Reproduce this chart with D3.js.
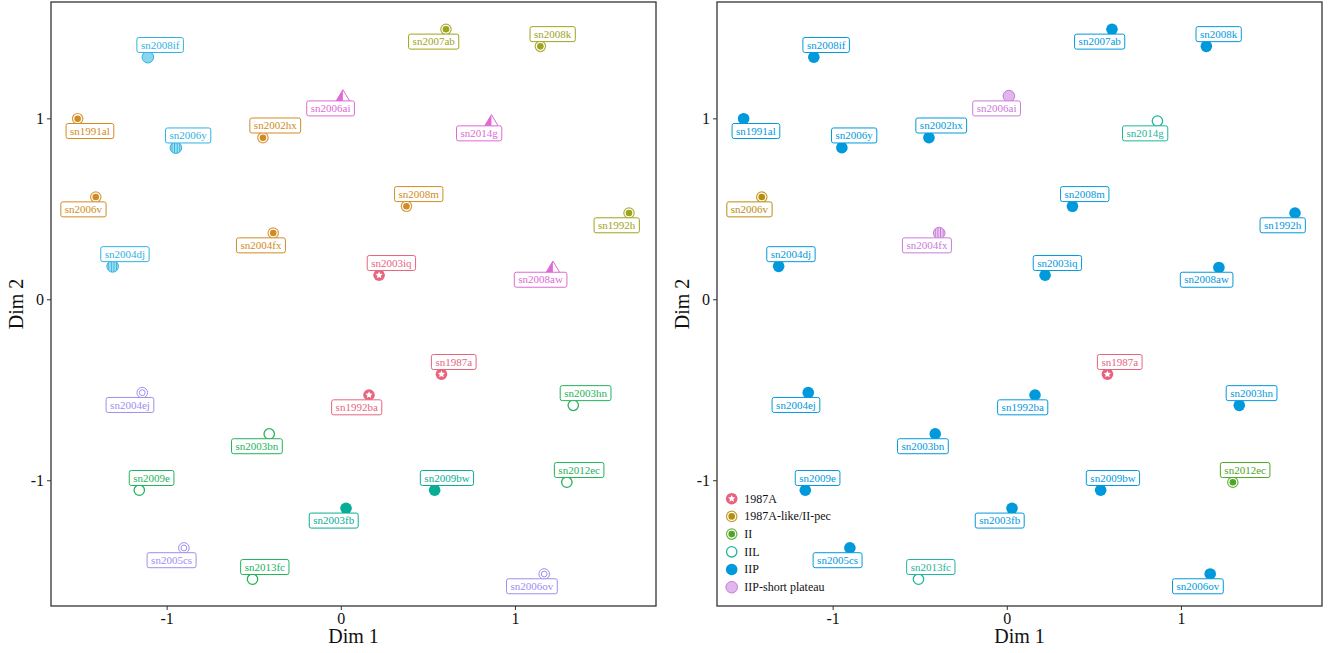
<!DOCTYPE html>
<html>
<head>
<meta charset="utf-8">
<script src="https://cdn.jsdelivr.net/npm/d3@7"></script>
<style>
  body { margin: 0; background: #fff; }
  svg { display: block; font-family: "Liberation Serif", "Times New Roman", serif; }
</style>
</head>
<body>
<svg id="chart" width="1336" height="653"></svg>
<script>
// Supernova light-curve embedding: two coordinates per object
const names = ["sn2008if","sn1991al","sn2006y","sn2002hx","sn2006ai","sn2006v","sn2007ab","sn2008k","sn2014g",
  "sn2008m","sn1992h","sn2004fx","sn2004dj","sn2004ej","sn2003iq","sn2008aw","sn1987a","sn1992ba",
  "sn2003hn","sn2003bn","sn2009e","sn2003fb","sn2005cs","sn2013fc","sn2009bw","sn2012ec","sn2006ov"];
const dim1 = [-1.108,-1.511,-0.947,-0.447,0.012,-1.407,0.604,1.146,0.865,
  0.377,1.655,-0.388,-1.310,-1.140,0.220,1.218,0.578,0.162,
  1.335,-0.411,-1.157,0.030,-0.901,-0.507,0.539,1.298,1.168];
const dim2 = [1.338,0.998,0.838,0.893,1.123,0.565,1.492,1.398,0.985,
  0.514,0.477,0.366,0.182,-0.516,0.133,0.176,-0.414,-0.529,
  -0.586,-0.744,-1.055,-1.155,-1.374,-1.547,-1.055,-1.011,-1.518];
// where each name tag sits relative to its point
const labelSide = ["ne","se","ne","ne","sw","sw","sw","ne","sw",
  "ne","sw","sw","ne","sw","ne","sw","ne","sw",
  "ne","sw","ne","sw","sw","ne","ne","ne","sw"];

// left panel: cluster membership and marker kind
const clusterGroup = ["c5","c2","c5","c2","c4","c2","c3","c3","c4",
  "c2","c3","c2","c5","c6","c1","c4","c1","c1",
  "c7","c7","c7","c8","c6","c7","c8","c7","c6"];
const clusterMarker = ["light","ringdot","hatch","ringdot","halftri","ringdot","ringdot","ringdot","halftri",
  "ringdot","ringdot","ringdot","hatch","dring","star","halftri","star","star",
  "open","open","open","disc","dring","open","disc","open","dring"];
const clusterKeys = ["c1","c2","c3","c4","c5","c6","c7","c8"];
const clusterColors = ["#E7657F","#D18B22","#9FA31A","#DE6AD5","#2DB3E2","#9E8EF0","#22B35B","#07AD95"];

// right panel: spectroscopic type
const snType = ["IIP","IIP","IIP","IIP","IIP-short plateau","1987A-like/II-pec","IIP","IIP","IIL",
  "IIP","IIP","IIP-short plateau","IIP","IIP","IIP","IIP","1987A","IIP",
  "IIP","IIP","IIP","IIP","IIP","IIL","IIP","II","IIP"];
const typeHatched = ["sn2004fx"];
const typeLevels = ["1987A","1987A-like/II-pec","II","IIL","IIP","IIP-short plateau"];
const typeColors = ["#E7627F","#BA8C0E","#4FA524","#1FB59B","#0099DC","#C97ADA"];
const typeMarkers = ["star","ringdot","ringdot","open","disc","light"];

const xTicks = [-1, 0, 1];
const yTicks = [-1, 0, 1];

const svg = d3.select("#chart");
const defs = svg.append("defs");

const plotTop = 2, plotBottom = 606;
const panels = [{ x0: 51, x1: 656 }, { x0: 717, x1: 1322 }];
const xDomain = [-1.664, 1.81];
const yDomain = [-1.695, 1.643];

const lighten = (c, t) => d3.interpolateRgb(c, "#ffffff")(t);

const hatchIds = new Map();
function hatchFill(color) {
  if (!hatchIds.has(color)) {
    const id = "hatch" + hatchIds.size;
    const p = defs.append("pattern").attr("id", id).attr("patternUnits", "userSpaceOnUse")
      .attr("width", 2.6).attr("height", 2.6);
    p.append("rect").attr("width", 2.6).attr("height", 2.6).attr("fill", lighten(color, 0.6));
    p.append("line").attr("x1", 1.3).attr("x2", 1.3).attr("y1", 0).attr("y2", 2.6)
      .attr("stroke", color).attr("stroke-width", 1);
    hatchIds.set(color, id);
  }
  return "url(#" + hatchIds.get(color) + ")";
}

function starPath(ro, ri) {
  const pts = [];
  for (let i = 0; i < 10; i++) {
    const r = i % 2 ? ri : ro;
    const a = -Math.PI / 2 + i * Math.PI / 5;
    pts.push([r * Math.cos(a), r * Math.sin(a)]);
  }
  return "M" + pts.map(p => p.join(",")).join("L") + "Z";
}

function drawMarker(g, kind, color) {
  switch (kind) {
    case "disc":
      g.append("circle").attr("r", 5.8).attr("fill", color);
      break;
    case "light":
      g.append("circle").attr("r", 5.8).attr("fill", lighten(color, 0.45)).attr("stroke", color).attr("stroke-width", 1);
      break;
    case "hatch":
      g.append("circle").attr("r", 5.8).attr("fill", hatchFill(color)).attr("stroke", color).attr("stroke-width", 1);
      break;
    case "open":
      g.append("circle").attr("r", 5.2).attr("fill", "none").attr("stroke", color).attr("stroke-width", 1.3);
      break;
    case "ringdot":
      g.append("circle").attr("r", 5.2).attr("fill", "#fff").attr("stroke", lighten(color, 0.15)).attr("stroke-width", 1.2);
      g.append("circle").attr("r", 3.3).attr("fill", color);
      break;
    case "dring":
      g.append("circle").attr("r", 5.3).attr("fill", "none").attr("stroke", color).attr("stroke-width", 1);
      g.append("circle").attr("r", 2.9).attr("fill", "none").attr("stroke", color).attr("stroke-width", 1);
      break;
    case "star":
      g.append("circle").attr("r", 5.8).attr("fill", color);
      g.append("path").attr("d", starPath(3.8, 1.8)).attr("fill", "#fff");
      break;
    case "halftri":
      g.append("path").attr("d", "M0,-6.4L-7,5.3L0,5.3Z").attr("fill", color);
      g.append("path").attr("d", "M0,-6.4L-7,5.3L7,5.3Z").attr("fill", "none")
        .attr("stroke", color).attr("stroke-width", 1).attr("stroke-linejoin", "round");
      break;
  }
}

function drawLabel(g, text, color, side) {
  const dx = side.includes("e") ? 12.3 : -12.3;
  const dy = side.includes("n") ? -12.2 : 12.3;
  const lg = g.append("g").attr("transform", `translate(${dx},${dy})`);
  const t = lg.append("text").text(text).attr("text-anchor", "middle").attr("dy", "0.33em")
    .attr("font-size", 11).attr("fill", color);
  const w = t.node().getComputedTextLength() + 8;
  lg.insert("rect", "text").attr("x", -w / 2).attr("y", -7.5).attr("width", w).attr("height", 15)
    .attr("rx", 2).attr("fill", "#fff").attr("stroke", color).attr("stroke-width", 1);
}

function drawPanel(p, colorOf, markerOf) {
  const x = d3.scaleLinear().domain(xDomain).range([p.x0, p.x1]);
  const y = d3.scaleLinear().domain(yDomain).range([plotBottom, plotTop]);
  const g = svg.append("g");

  const xa = g.append("g").attr("transform", `translate(0,${plotBottom})`)
    .call(d3.axisBottom(x).tickValues(xTicks).tickSize(4).tickFormat(d => String(d)));
  const ya = g.append("g").attr("transform", `translate(${p.x0},0)`)
    .call(d3.axisLeft(y).tickValues(yTicks).tickSize(4).tickFormat(d => String(d)));
  [xa, ya].forEach(a => {
    a.select(".domain").remove();
    a.selectAll("line").attr("stroke", "#333");
    a.selectAll("text").attr("font-size", 16).attr("fill", "#111")
      .attr("font-family", "'Liberation Serif', 'Times New Roman', serif");
  });

  g.append("rect").attr("x", p.x0).attr("y", plotTop).attr("width", p.x1 - p.x0).attr("height", plotBottom - plotTop)
    .attr("fill", "none").attr("stroke", "#333").attr("stroke-width", 1.3);

  g.append("text").attr("x", (p.x0 + p.x1) / 2).attr("y", 643).attr("text-anchor", "middle")
    .attr("font-size", 20).attr("fill", "#111").text("Dim 1");
  g.append("text").attr("transform", `translate(${p.x0 - 28},${(plotTop + plotBottom) / 2}) rotate(-90)`)
    .attr("text-anchor", "middle").attr("font-size", 20).attr("fill", "#111").text("Dim 2");

  const idx = d3.range(names.length);
  const pts = g.append("g").selectAll("g").data(idx).join("g")
    .attr("transform", i => `translate(${x(dim1[i])},${y(dim2[i])})`);
  pts.each(function (i) { drawMarker(d3.select(this), markerOf(i), colorOf(i)); });

  const labs = g.append("g").selectAll("g").data(idx).join("g")
    .attr("transform", i => `translate(${x(dim1[i])},${y(dim2[i])})`);
  labs.each(function (i) { drawLabel(d3.select(this), names[i], colorOf(i), labelSide[i]); });
  return g;
}

const clusterColor = d3.scaleOrdinal().domain(clusterKeys).range(clusterColors);
drawPanel(panels[0], i => clusterColor(clusterGroup[i]), i => clusterMarker[i]);

const typeColor = d3.scaleOrdinal().domain(typeLevels).range(typeColors);
const typeMarker = d3.scaleOrdinal().domain(typeLevels).range(typeMarkers);
const right = drawPanel(panels[1], i => typeColor(snType[i]),
  i => typeHatched.includes(names[i]) ? "hatch" : typeMarker(snType[i]));

// legend for spectroscopic types
const legend = right.append("g").attr("transform", `translate(${panels[1].x0 + 14.7},498.7)`);
typeLevels.forEach((t, k) => {
  const row = legend.append("g").attr("transform", `translate(0,${k * 17.7})`);
  drawMarker(row, typeMarkers[k], typeColors[k]);
  row.append("text").attr("x", 12.6).attr("dy", "0.33em").attr("font-size", 12).attr("fill", "#111").text(t);
});
</script>
</body>
</html>
